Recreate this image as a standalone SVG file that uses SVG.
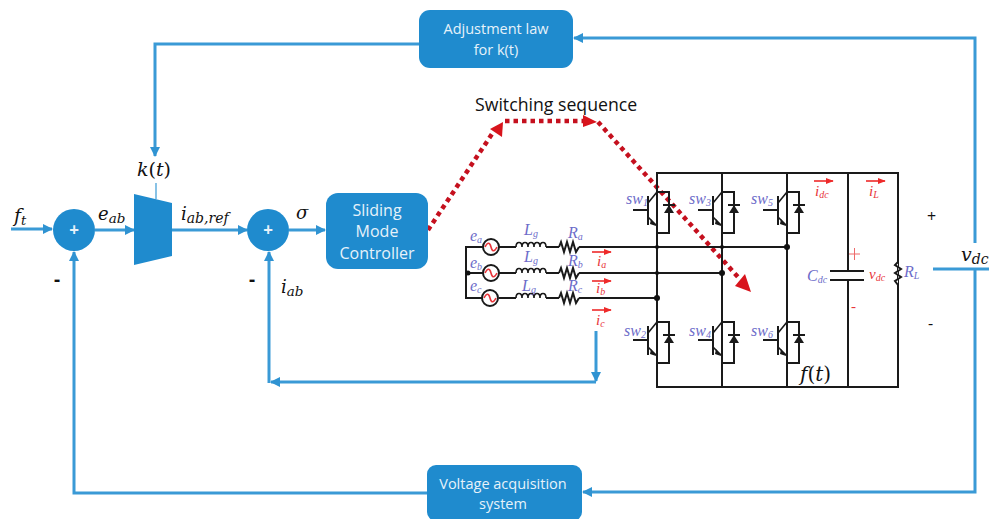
<svg xmlns="http://www.w3.org/2000/svg" xmlns:xlink="http://www.w3.org/1999/xlink" width="989" height="519" viewBox="0 0 989 519">
<style>
.box{fill:#1f8bce}
.conn{fill:none;stroke:#3a9ad6;stroke-width:3}
.wire{fill:none;stroke:#1a1a1a;stroke-width:2}
.thin{fill:none;stroke:#1a1a1a;stroke-width:1.6}
.w{font-family:"Open Sans","Liberation Sans",sans-serif;fill:#e6f2fa;text-anchor:middle}
.m{font-family:"DejaVu Serif","Liberation Serif",serif;font-style:italic;fill:#111}
.u{font-style:normal}
.p{font-family:"Liberation Serif",serif;font-style:italic;fill:#6d6cc9;font-size:16px}
.r{font-family:"Liberation Serif",serif;font-style:italic;fill:#e8353a;font-size:15px}
.s{font-family:"Open Sans","Liberation Sans",sans-serif;fill:#111}
.red{stroke:#ee2a2a;stroke-width:1.6;fill:none}
.dots{fill:none;stroke:#c5101e;stroke-width:4.5;stroke-dasharray:4.500 4}
</style>
<defs>
<marker id="a" viewBox="0 0 10 10" refX="9" refY="5" markerWidth="3.400" markerHeight="4" orient="auto"><path d="M0 0L10 5L0 10z" fill="#2f93d2"/></marker>
<marker id="ra" viewBox="0 0 10 10" refX="9" refY="5" markerWidth="5" markerHeight="5" orient="auto"><path d="M0 1L10 5L0 9z" fill="#ee2a2a"/></marker>
<g id="igbt">
<path class="thin" d="M0 0H12V41H0M-24 18H-9M-9 4V33" style="stroke-width:2"/>
<path class="thin" d="M-9 11L0 0M-9 25L0 34"/>
<path d="M-6 27L-1 34L-7 32z" fill="#1a1a1a"/>
<path d="M6 13H18" class="thin" style="stroke-width:2"/>
<path d="M12 13L7 21H17z" fill="#1a1a1a"/>
</g>
<g id="src"><circle r="8" fill="#fff" stroke="#1a1a1a" stroke-width="2"/><path d="M-6 0C-3 -6 -1 -4 0 0S3 6 6 0" fill="none" stroke="#e8353a" stroke-width="1.6"/></g>
<path id="ind" class="thin" d="M0 0C0 -6 6 -6 6 0C6 -6 12 -6 12 0C12 -6 18 -6 18 0C18 -6 24 -6 24 0C24 -6 30 -6 30 0"/>
<path id="res" class="thin" style="stroke-width:2" d="M0 0L2 -5L5 5L8 -5L11 5L14 -5L17 5L20 0"/>
</defs>

<g id="connectors">
<path class="conn" d="M11 229H52" marker-end="url(#a)"/>
<path class="conn" d="M95 230H134" marker-end="url(#a)"/>
<path class="conn" d="M172 230H247" marker-end="url(#a)"/>
<path class="conn" d="M289 230H325" marker-end="url(#a)"/>
<path class="conn" d="M419 44H155V156" marker-end="url(#a)"/>
<path d="M156 183V199" stroke="#3a9ad6" stroke-width="1.2" fill="none"/>
<path class="conn" d="M975 243V38H574" marker-end="url(#a)"/>
<path class="conn" d="M933 269H989"/>
<path class="conn" d="M975 270V492H583" marker-end="url(#a)"/>
<path class="conn" d="M427 493H74V252" marker-end="url(#a)"/>
<path class="conn" d="M596 331V381" marker-end="url(#a)"/>
<path class="conn" d="M596 382H271" marker-end="url(#a)"/>
<path class="conn" d="M269 383V252" marker-end="url(#a)"/>
<path class="dots" d="M428 230L494 131"/>
<path d="M503 122L490 129L502 137z" fill="#d8141c"/>
<path class="dots" d="M505 121H583"/>
<path d="M597 122L583 115V127z" fill="#d8141c"/>
<path class="dots" d="M598 122L738 277"/>
<path d="M751 292L735 286L745 274z" fill="#d8141c"/>
</g>

<g id="adjustment-law">
<rect class="box" x="419" y="10" width="154" height="58" rx="11"/>
<text class="w" x="496" y="34" font-size="14.5">Adjustment law</text>
<text class="w" x="496" y="55" font-size="14.5">for k(t)</text>
</g>
<g id="voltage-acquisition">
<rect class="box" x="427" y="465" width="155" height="56" rx="9"/>
<text class="w" x="503" y="489" font-size="14.5">Voltage acquisition</text>
<text class="w" x="503" y="509" font-size="14.5">system</text>
</g>
<g id="sliding-mode-controller">
<rect class="box" x="326" y="193" width="102" height="76" rx="12"/>
<text class="w" x="377" y="216" font-size="16">Sliding</text>
<text class="w" x="377" y="237" font-size="16">Mode</text>
<text class="w" x="377" y="259" font-size="16">Controller</text>
</g>
<g id="sum-1">
<circle class="box" cx="74" cy="230" r="21"/>
<text class="w" x="74" y="236" font-size="17" font-weight="700">+</text>
</g>
<g id="sum-2">
<circle class="box" cx="268" cy="230" r="21"/>
<text class="w" x="268" y="236" font-size="17" font-weight="700">+</text>
</g>
<g id="gain">
<path class="box" d="M134 194L172 203V256L134 265z"/>
</g>

<g id="labels">
<text class="m" x="14" y="222" font-size="19">f<tspan font-size="13" dy="3">t</tspan></text>
<text class="m" x="98" y="220" font-size="18">e<tspan font-size="13.500" dy="3">ab</tspan></text>
<text class="m" x="137" y="176" font-size="19">k<tspan class="u">(</tspan>t<tspan class="u">)</tspan></text>
<text class="m" x="181" y="220" font-size="18">i<tspan font-size="14" dy="3">ab,ref</tspan></text>
<text class="m" x="296" y="219" font-size="18">σ</text>
<text class="m" x="281" y="293" font-size="18">i<tspan font-size="13.500" dy="3">ab</tspan></text>
<text class="s" x="54" y="286" font-size="19" font-weight="700">-</text>
<text class="s" x="249" y="286" font-size="19" font-weight="700">-</text>
<text class="s" x="475" y="111" font-size="17.7">Switching sequence</text>
<text class="s" x="927" y="222" font-size="16">+</text>
<text class="s" x="928" y="329" font-size="16">-</text>
<text class="m" x="961" y="261" font-size="19">v<tspan font-size="14" dy="3">dc</tspan></text>
<text class="m" x="800" y="381" font-size="20">f<tspan class="u">(</tspan>t<tspan class="u">)</tspan></text>
</g>

<g id="rectifier">
<path class="wire" d="M657 173V387H898V173ZM722 173V387M787 173V387M848 173V271M848 280V387"/>
<path class="wire" d="M466 247H483M499 247H516M546 247H559M579 247H787M466 273H483M499 273H516M546 273H559M579 273H722M466 298H483M499 298H516M546 298H559M579 298H657M466 246V299"/>
<path class="wire" d="M830 271H864M830 280H864"/>
<path class="thin" style="stroke-width:2;fill:#fff" d="M898 262L895 265L901 269L895 273L901 277L895 281L898 285"/>
<use xlink:href="#igbt" href="#igbt" x="657" y="192"/>
<use xlink:href="#igbt" href="#igbt" x="722" y="192"/>
<use xlink:href="#igbt" href="#igbt" x="787" y="192"/>
<use xlink:href="#igbt" href="#igbt" x="657" y="322"/>
<use xlink:href="#igbt" href="#igbt" x="722" y="322"/>
<use xlink:href="#igbt" href="#igbt" x="787" y="322"/>
<use xlink:href="#src" href="#src" x="491" y="247"/>
<use xlink:href="#src" href="#src" x="491" y="273"/>
<use xlink:href="#src" href="#src" x="490" y="298"/>
<use xlink:href="#ind" href="#ind" x="516" y="247"/>
<use xlink:href="#ind" href="#ind" x="516" y="273"/>
<use xlink:href="#ind" href="#ind" x="516" y="298"/>
<use xlink:href="#res" href="#res" x="559" y="247"/>
<use xlink:href="#res" href="#res" x="559" y="273"/>
<use xlink:href="#res" href="#res" x="559" y="298"/>
<g fill="#111"><circle cx="468" cy="273" r="2.5"/><circle cx="657" cy="247" r="2"/><circle cx="657" cy="273" r="2"/><circle cx="657" cy="298" r="3"/><circle cx="722" cy="247" r="2"/><circle cx="722" cy="273" r="3"/><circle cx="787" cy="247" r="3"/></g>
<path class="red" d="M592 252H611" marker-end="url(#ra)"/>
<path class="red" d="M592 281H611" marker-end="url(#ra)"/>
<path class="red" d="M592 310H611" marker-end="url(#ra)"/>
<path class="red" d="M814 181H833" marker-end="url(#ra)"/>
<path class="red" d="M866 181H885" marker-end="url(#ra)"/>
<path d="M849 254H860M854.500 248V260" fill="none" stroke="#ee6a6a" stroke-width="1"/>
<text class="p" x="470" y="241">e<tspan font-size="10" dy="2">a</tspan></text>
<text class="p" x="470" y="268">e<tspan font-size="10" dy="2">b</tspan></text>
<text class="p" x="470" y="291">e<tspan font-size="10" dy="2">c</tspan></text>
<text class="p" x="524" y="235">L<tspan font-size="10" dy="2">g</tspan></text>
<text class="p" x="524" y="262">L<tspan font-size="10" dy="2">g</tspan></text>
<text class="p" x="522" y="291">L<tspan font-size="10" dy="2">g</tspan></text>
<text class="p" x="568" y="238">R<tspan font-size="10" dy="2">a</tspan></text>
<text class="p" x="568" y="266">R<tspan font-size="10" dy="2">b</tspan></text>
<text class="p" x="568" y="291">R<tspan font-size="10" dy="2">c</tspan></text>
<text class="r" x="597" y="266">i<tspan font-size="10" dy="2">a</tspan></text>
<text class="r" x="596" y="293">i<tspan font-size="10" dy="2">b</tspan></text>
<text class="r" x="596" y="325">i<tspan font-size="10" dy="2">c</tspan></text>
<text class="r" x="815" y="196">i<tspan font-size="10" dy="2">dc</tspan></text>
<text class="r" x="869" y="196">i<tspan font-size="10" dy="2">L</tspan></text>
<text class="r" x="869" y="279">v<tspan font-size="10" dy="2">dc</tspan></text>
<text class="r" x="851" y="311" font-size="17" style="font-style:normal">-</text>
<text class="p" x="807" y="281">C<tspan font-size="10" dy="2">dc</tspan></text>
<text class="p" x="904" y="277">R<tspan font-size="10" dy="2">L</tspan></text>
<text class="p" x="626" y="204">sw<tspan font-size="10" dy="2">1</tspan></text>
<text class="p" x="689" y="204">sw<tspan font-size="10" dy="2">3</tspan></text>
<text class="p" x="751" y="204">sw<tspan font-size="10" dy="2">5</tspan></text>
<text class="p" x="624" y="336">sw<tspan font-size="10" dy="2">2</tspan></text>
<text class="p" x="689" y="336">sw<tspan font-size="10" dy="2">4</tspan></text>
<text class="p" x="751" y="336">sw<tspan font-size="10" dy="2">6</tspan></text>
</g>
</svg>
